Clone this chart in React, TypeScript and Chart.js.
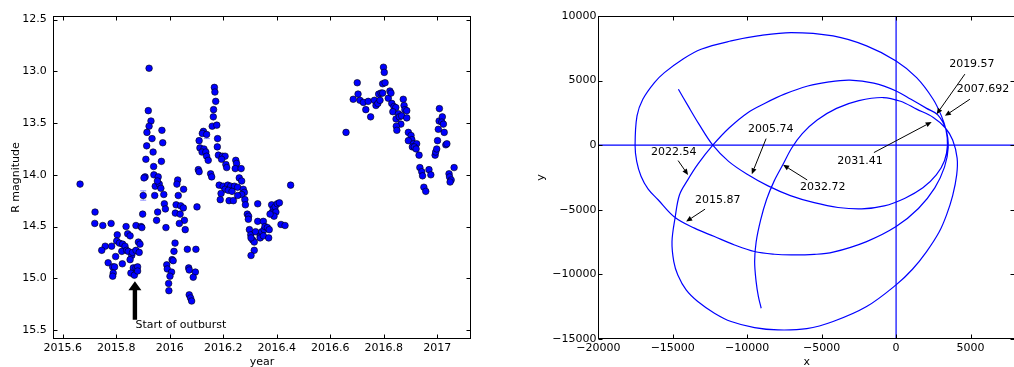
import React, { useEffect, useRef } from 'react';
import { Chart, registerables } from 'chart.js';
Chart.register(...registerables);

// ---------- Left panel: R-band light curve ----------
const years = [
  2015.665, 2015.721, 2015.720, 2015.750, 2015.781, 2015.837, 2015.874, 2015.893, 2015.896, 2015.899,
  2015.901, 2015.804, 2015.759, 2015.746, 2015.783, 2015.802, 2015.812, 2015.824, 2015.833, 2015.821,
  2015.839, 2015.843, 2015.852, 2015.845, 2015.858, 2015.861, 2015.852, 2015.874, 2015.883, 2015.889,
  2015.886, 2015.798, 2015.770, 2015.823, 2015.787, 2015.794, 2015.789, 2015.787, 2015.864, 2015.874,
  2015.880, 2015.855, 2015.868, 2015.880,
  2015.923, 2015.920, 2015.930, 2015.923, 2015.915, 2015.934, 2015.971, 2015.914, 2015.974, 2015.938,
  2015.911, 2015.969, 2015.940, 2015.908, 2015.904, 2015.941, 2015.957, 2015.946, 2015.961, 2015.967,
  2015.954, 2015.978, 2015.944, 2015.980, 2015.984, 2015.955, 2015.951, 2015.986, 2016.030, 2016.027,
  2016.052, 2016.032, 2016.024, 2016.041, 2016.051, 2016.021, 2016.039, 2016.055, 2016.036, 2016.058,
  2016.102, 2016.020, 2016.016, 2016.009, 2016.013, 2015.989, 2015.991, 2016.007, 2016.001, 2015.996,
  2015.997, 2016.066, 2016.098, 2016.071, 2016.073, 2016.096, 2016.088, 2016.073, 2016.078, 2016.082,
  2016.107, 2016.110,
  2016.167, 2016.169, 2016.172, 2016.164, 2016.163, 2016.159, 2016.176, 2016.126, 2016.122, 2016.138,
  2016.179, 2016.110, 2016.178, 2016.113, 2016.128, 2016.121, 2016.135, 2016.138, 2016.144, 2016.182,
  2016.197, 2016.207, 2016.194, 2016.210, 2016.213, 2016.247, 2016.250, 2016.245, 2016.267, 2016.153,
  2016.157, 2016.260, 2016.269, 2016.185, 2016.200, 2016.217, 2016.228, 2016.242, 2016.254, 2016.207,
  2016.219, 2016.233, 2016.275, 2016.279, 2016.269, 2016.254, 2016.192, 2016.189, 2016.222, 2016.238,
  2016.281, 2016.283, 2016.329, 2016.290, 2016.295, 2016.294, 2016.329, 2016.350, 2016.298, 2016.303,
  2016.310, 2016.316, 2016.304, 2016.321, 2016.338, 2016.344, 2016.353, 2016.356, 2016.365, 2016.372,
  2016.338, 2016.350, 2016.370, 2016.316, 2016.304, 2016.381, 2016.387, 2016.381, 2016.394, 2016.397,
  2016.402, 2016.410, 2016.390, 2016.375, 2016.416, 2016.431, 2016.452,
  2016.659, 2016.686, 2016.701, 2016.704, 2016.711, 2016.724, 2016.733, 2016.742, 2016.751, 2016.765,
  2016.771, 2016.778, 2016.781, 2016.786, 2016.790, 2016.796, 2016.796, 2016.805, 2016.799, 2016.802,
  2016.817, 2016.823, 2016.827, 2016.830, 2016.838, 2016.845, 2016.834, 2016.855, 2016.846, 2016.858,
  2016.867, 2016.864, 2016.873, 2016.876, 2016.879, 2016.886, 2016.886, 2016.847, 2016.849, 2016.892,
  2016.902, 2016.905, 2016.892, 2016.911, 2016.923, 2016.907, 2016.914, 2016.921, 2016.932, 2016.935,
  2016.942, 2016.945, 2016.950, 2016.957, 2016.969, 2016.976, 2016.992, 2016.994, 2016.998, 2017.001,
  2017.004, 2017.007, 2017.008, 2017.019, 2017.017, 2017.023, 2017.026, 2017.032, 2017.036, 2017.044,
  2017.046, 2017.052, 2017.048, 2017.063,
];
const mags = [
  14.09, 14.36, 14.47, 14.49, 14.47, 14.50, 14.49, 14.50, 14.51, 14.38,
  14.20, 14.58, 14.69, 14.73, 14.69, 14.64, 14.66, 14.67, 14.69, 14.74,
  14.73, 14.57, 14.59, 14.74, 14.78, 14.75, 14.82, 14.73, 14.65, 14.67,
  14.75, 14.79, 14.85, 14.86, 14.89, 14.89, 14.95, 14.98, 14.90, 14.90,
  14.89, 14.95, 14.97, 14.93,
  12.97, 13.38, 13.48, 13.53, 13.59, 13.65, 13.57, 13.72, 13.69, 13.78,
  13.85, 13.87, 13.92, 14.02, 14.03, 14.00, 14.02, 14.11, 14.09, 14.13,
  14.06, 14.19, 14.20, 14.28, 14.33, 14.36, 14.44, 14.51, 14.05, 14.09,
  14.14, 14.20, 14.29, 14.30, 14.32, 14.37, 14.38, 14.44, 14.47, 14.53,
  14.31, 14.66, 14.74, 14.82, 14.83, 14.87, 14.91, 14.94, 14.98, 15.05,
  15.12, 14.72, 14.72, 14.90, 14.92, 14.94, 14.99, 15.16, 15.19, 15.22,
  13.95, 13.97,
  13.155, 13.20, 13.29, 13.37, 13.44, 13.53, 13.52, 13.58, 13.60, 13.61,
  13.65, 13.67, 13.73, 13.74, 13.75, 13.78, 13.78, 13.82, 13.86, 13.81,
  13.82, 13.82, 13.85, 13.90, 13.93, 13.86, 13.89, 13.94, 13.94, 13.99,
  14.02, 14.03, 14.06, 14.10, 14.11, 14.10, 14.11, 14.11, 14.12, 14.14,
  14.15, 14.16, 14.14, 14.17, 14.19, 14.20, 14.18, 14.24, 14.25, 14.25,
  14.24, 14.29, 14.28, 14.38, 14.40, 14.43, 14.45, 14.45, 14.53, 14.58,
  14.63, 14.65, 14.61, 14.55, 14.59, 14.55, 14.53, 14.50, 14.51, 14.53,
  14.61, 14.59, 14.61, 14.73, 14.78, 14.29, 14.33, 14.37, 14.31, 14.36,
  14.28, 14.27, 14.40, 14.38, 14.48, 14.49, 14.10,
  13.59, 13.27, 13.11, 13.22, 13.28, 13.30, 13.37, 13.29, 13.44, 13.28,
  13.33, 13.31, 13.22, 13.28, 13.21, 13.21, 13.12, 13.11, 12.96, 13.01,
  13.26, 13.19, 13.21, 13.31, 13.34, 13.35, 13.39, 13.41, 13.46, 13.44,
  13.43, 13.51, 13.27, 13.33, 13.37, 13.38, 13.45, 13.53, 13.57, 13.59,
  13.62, 13.66, 13.67, 13.70, 13.70, 13.73, 13.73, 13.75, 13.81, 13.93,
  13.97, 14.01, 14.12, 14.16, 13.95, 14.00, 13.81, 13.78, 13.75, 13.67,
  13.56, 13.48, 13.36, 13.44, 13.49, 13.51, 13.59, 13.71, 13.70, 13.99,
  14.02, 14.05, 14.07, 13.93,
];
const errYears = [2015.901, 2016.139];
const errMags = [14.20, 13.62];
const errSizes = [0.045, 0.03];

const yearTicks = [2015.6, 2015.8, 2016.0, 2016.2, 2016.4, 2016.6, 2016.8, 2017.0];
const magTicks = [12.5, 13.0, 13.5, 14.0, 14.5, 15.0, 15.5];
const yearRange = [2015.565, 2017.125];
const magRange = [12.465, 15.587];

const outburstLabel = 'Start of outburst';
const outburstYear = 2015.87;
const outburstTipMag = 15.03;
const outburstTailMag = 15.40;
const outburstLabelMag = 15.45;

// ---------- Right panel: orbit (one continuous track) ----------
const orbitX = [
  -14620, -14000, -13250, -12310, -11250, -10000, -8600, -7100, -5500, -3900,
  -2300, -800, 600, 1800, 2700, 3250, 3450, 3350, 3050,
  2490, 1380, 0, -1980, -4230, -7050, -9290, -11080, -13100, -14330,
  -15560, -16230, -17010, -17400, -17530, -17420, -17130, -16650, -16000, -14890,
  -13540, -12200, -10850, -9510, -8170, -7050, -5500, -4230, -1980, 0,
  1500, 2600, 3250, 3500, 3350, 2800,
  2050, 1000, 0, -1500, -3100, -4500, -5930, -7500, -8800, -9960,
  -11200, -12310, -13300, -14000, -14550, -14840, -15050, -14930, -14660, -14100,
  -13320, -12200, -11080, -9510, -7940, -6000, -4230, -1980, 0, 1100,
  2050, 2900, 3390, 3800, 4070, 4100, 3800, 3300, 2500,
  1380, 300, -870, -2500, -4000, -5300, -6300, -7000, -7600, -8200,
  -8700, -9100, -9400, -9500, -9400, -9250, -9060,
];
const orbitY = [
  4330, 3100, 1650, 0, -1250, -2250, -3150, -3900, -4450, -4820,
  -4930, -4700, -4100, -3300, -2300, -1200, 0, 1200, 2250,
  3560, 5230, 6520, 7690, 8460, 8720, 8460, 8070, 7430, 6660,
  5620, 4850, 3560, 2270, 0, -1250, -2400, -3400, -4200, -5550,
  -6420, -7070, -7720, -8230, -8440, -8490, -8450, -8280, -7460, -6300,
  -4900, -3300, -1700, -200, 1200, 2350,
  2850, 3550, 4200, 4800, 5030, 4900, 4580, 3950, 3250, 2520,
  1350, 0, -1450, -2700, -3850, -5600, -7460, -9010, -10040, -11200,
  -12100, -13000, -13650, -14120, -14300, -14200, -13650, -12490, -10810, -9600,
  -8230, -6700, -5390, -3900, -2300, -1000, 400, 1350, 2150,
  2790, 3400, 3690, 3450, 2850, 1950, 900, -200, -1500, -2800,
  -4200, -5800, -7500, -9000, -10560, -11700, -12620,
];
const hLineX = [-20000, 8000];
const hLineY = [0, 0];
const vLineX = [0, 0];
const vLineY = [-15000, 10000];

const annoLabels = ['2022.54', '2005.74', '2015.87', '2019.57', '2007.692', '2031.41', '2032.72'];
const annoTextX = [-14930, -8410, -11980, 5090, 5830, -2430, -4920];
const annoTextY = [-520, 1260, -4230, 6290, 4320, -1250, -3230];
const annoFromX = [-14640, -8730, -12830, 4620, 4960, -1490, -5970];
const annoFromY = [-1190, 510, -4950, 5500, 3560, -570, -2690];
const annoTipX = [-13970, -9690, -14100, 2720, 3280, 2390, -7590];
const annoTipY = [-2300, -2245, -5910, 2400, 2270, 1800, -1520];

const xyTicksX = [-20000, -15000, -10000, -5000, 0, 5000];
const xyTicksY = [-15000, -10000, -5000, 0, 5000, 10000];
const xyRangeX = [-20000, 8000];
const xyRangeY = [-15000, 10000];

const FONT = "'DejaVu Sans', sans-serif";

const framePlugin = {
  id: 'frame',
  afterDatasetsDraw(chart: any) {
    const { ctx, chartArea: a, scales } = chart;
    const l = Math.round(a.left) + 0.5, r = Math.round(a.right) - 0.5;
    const t = Math.round(a.top) + 0.5, b = Math.round(a.bottom) - 0.5;
    ctx.save();
    ctx.strokeStyle = '#000';
    ctx.lineWidth = 1;
    ctx.strokeRect(l, t, r - l, b - t);
    const L = 4;
    ctx.beginPath();
    for (const tk of scales.x.ticks) {
      const p = Math.round(scales.x.getPixelForValue(tk.value)) + 0.5;
      ctx.moveTo(p, b); ctx.lineTo(p, b - L);
      ctx.moveTo(p, t); ctx.lineTo(p, t + L);
    }
    for (const tk of scales.y.ticks) {
      const p = Math.round(scales.y.getPixelForValue(tk.value)) + 0.5;
      ctx.moveTo(l, p); ctx.lineTo(l + L, p);
      ctx.moveTo(r, p); ctx.lineTo(r - L, p);
    }
    ctx.stroke();
    ctx.restore();
  },
};

const errorBarPlugin = {
  id: 'errbars',
  beforeDatasetsDraw(chart: any) {
    const { ctx, scales } = chart;
    ctx.save();
    ctx.strokeStyle = '#8c8cff';
    ctx.lineWidth = 1;
    ctx.beginPath();
    errYears.forEach((yr, i) => {
      const x = scales.x.getPixelForValue(yr);
      const y1 = scales.y.getPixelForValue(errMags[i] - errSizes[i]);
      const y2 = scales.y.getPixelForValue(errMags[i] + errSizes[i]);
      ctx.moveTo(x, y1); ctx.lineTo(x, y2);
      ctx.moveTo(x - 3, y1); ctx.lineTo(x + 3, y1);
      ctx.moveTo(x - 3, y2); ctx.lineTo(x + 3, y2);
    });
    ctx.stroke();
    ctx.restore();
  },
};

const outburstPlugin = {
  id: 'outburst',
  afterDatasetsDraw(chart: any) {
    const { ctx, scales } = chart;
    const x = scales.x.getPixelForValue(outburstYear);
    const yTip = scales.y.getPixelForValue(outburstTipMag);
    const yTail = scales.y.getPixelForValue(outburstTailMag);
    const hw = 6.5, sw = 2.2, hl = 9;
    ctx.save();
    ctx.fillStyle = '#000';
    ctx.beginPath();
    ctx.moveTo(x, yTip);
    ctx.lineTo(x + hw, yTip + hl);
    ctx.lineTo(x + sw, yTip + hl);
    ctx.lineTo(x + sw, yTail);
    ctx.lineTo(x - sw, yTail);
    ctx.lineTo(x - sw, yTip + hl);
    ctx.lineTo(x - hw, yTip + hl);
    ctx.closePath();
    ctx.fill();
    ctx.font = `11px ${FONT}`;
    ctx.textAlign = 'left';
    ctx.textBaseline = 'middle';
    ctx.fillText(outburstLabel, x + 0.5, scales.y.getPixelForValue(outburstLabelMag));
    ctx.restore();
  },
};

const annotationPlugin = {
  id: 'annos',
  afterDatasetsDraw(chart: any) {
    const { ctx, scales } = chart;
    const sx = scales.x, sy = scales.y;
    ctx.save();
    ctx.font = `11px ${FONT}`;
    ctx.fillStyle = '#000';
    ctx.strokeStyle = '#000';
    ctx.lineWidth = 1;
    ctx.textAlign = 'center';
    ctx.textBaseline = 'middle';
    annoLabels.forEach((lab, i) => {
      ctx.fillText(lab, sx.getPixelForValue(annoTextX[i]), sy.getPixelForValue(annoTextY[i]));
      const x0 = sx.getPixelForValue(annoFromX[i]), y0 = sy.getPixelForValue(annoFromY[i]);
      const x1 = sx.getPixelForValue(annoTipX[i]), y1 = sy.getPixelForValue(annoTipY[i]);
      const ang = Math.atan2(y1 - y0, x1 - x0);
      const hl = 6, hw = 2.6;
      const bx = x1 - hl * Math.cos(ang), by = y1 - hl * Math.sin(ang);
      ctx.beginPath();
      ctx.moveTo(x0, y0); ctx.lineTo(bx, by);
      ctx.stroke();
      ctx.beginPath();
      ctx.moveTo(x1, y1);
      ctx.lineTo(bx + hw * Math.sin(ang), by - hw * Math.cos(ang));
      ctx.lineTo(bx - hw * Math.sin(ang), by + hw * Math.cos(ang));
      ctx.closePath();
      ctx.fill();
    });
    ctx.restore();
  },
};

const fmtYear = (v: number) => String(Number(v.toFixed(1)));
const fmtMag = (v: number) => v.toFixed(1);
const fmtXY = (v: number) => String(Math.round(v)).replace('-', '\u2212');

export default function App() {
  const leftRef = useRef<HTMLCanvasElement>(null);
  const rightRef = useRef<HTMLCanvasElement>(null);

  useEffect(() => {
    document.body.style.margin = '0';
    Chart.defaults.font.family = FONT;
    Chart.defaults.font.size = 11;
    Chart.defaults.color = '#000';

    const left = new Chart(leftRef.current as HTMLCanvasElement, {
      type: 'scatter',
      data: {
        datasets: [{
          data: years.map((x, i) => ({ x, y: mags[i] })),
          backgroundColor: '#0000ff',
          borderColor: '#000',
          borderWidth: 0.6,
          pointRadius: 3.3,
        }],
      },
      options: {
        animation: false,
        responsive: false,
        layout: { padding: { top: 16, right: 29.3, left: 0, bottom: 0 } },
        plugins: { legend: { display: false }, tooltip: { enabled: false } },
        scales: {
          x: {
            type: 'linear', min: yearRange[0], max: yearRange[1],
            grid: { display: false, drawTicks: false }, border: { display: false },
            afterBuildTicks: (s: any) => { s.ticks = yearTicks.map((v) => ({ value: v })); },
            afterFit: (s: any) => { s.height = 28; },
            ticks: { callback: (v: any) => fmtYear(Number(v)), padding: 3, maxRotation: 0, autoSkip: false, font: { size: 11 } },
            title: { display: true, text: 'year', font: { size: 11 }, padding: { top: 0, bottom: -2 } },
          },
          y: {
            type: 'linear', reverse: true, min: magRange[0], max: magRange[1],
            grid: { display: false, drawTicks: false }, border: { display: false },
            afterBuildTicks: (s: any) => { s.ticks = magTicks.map((v) => ({ value: v })); },
            afterFit: (s: any) => { s.width = 53.3; },
            ticks: { callback: (v: any) => fmtMag(Number(v)), padding: 6.6, autoSkip: false, font: { size: 11 } },
            title: { display: true, text: 'R magnitude', font: { size: 11 }, padding: { top: 10, bottom: 0 } },
          },
        },
      },
      plugins: [errorBarPlugin, framePlugin, outburstPlugin],
    } as any);

    const lineStyle = { showLine: true, borderColor: '#0000ff', borderWidth: 1.2, pointRadius: 0, fill: false };
    const right = new Chart(rightRef.current as HTMLCanvasElement, {
      type: 'scatter',
      data: {
        datasets: [
          { ...lineStyle, tension: 0.35, data: orbitX.map((x, i) => ({ x, y: orbitY[i] })) },
          { ...lineStyle, data: hLineX.map((x, i) => ({ x, y: hLineY[i] })) },
          { ...lineStyle, data: vLineX.map((x, i) => ({ x, y: vLineY[i] })) },
        ],
      },
      options: {
        animation: false,
        responsive: false,
        layout: { padding: { top: 16, right: 4.8, left: 0, bottom: 0 } },
        plugins: { legend: { display: false }, tooltip: { enabled: false } },
        scales: {
          x: {
            type: 'linear', min: xyRangeX[0], max: xyRangeX[1],
            grid: { display: false, drawTicks: false }, border: { display: false },
            afterBuildTicks: (s: any) => { s.ticks = xyTicksX.map((v) => ({ value: v })); },
            afterFit: (s: any) => { s.height = 28; },
            ticks: { callback: (v: any) => fmtXY(Number(v)), padding: 3, maxRotation: 0, autoSkip: false, font: { size: 11 } },
            title: { display: true, text: 'x', font: { size: 11 }, padding: { top: 0, bottom: -2 } },
          },
          y: {
            type: 'linear', min: xyRangeY[0], max: xyRangeY[1],
            grid: { display: false, drawTicks: false }, border: { display: false },
            afterBuildTicks: (s: any) => { s.ticks = xyTicksY.map((v) => ({ value: v })); },
            afterFit: (s: any) => { s.width = 98.3; },
            ticks: { callback: (v: any) => fmtXY(Number(v)), padding: 1.8, autoSkip: false, font: { size: 11 } },
            title: { display: true, text: 'y', font: { size: 11 }, padding: { top: 35, bottom: 0 } },
          },
        },
      },
      plugins: [framePlugin, annotationPlugin],
    } as any);

    return () => { left.destroy(); right.destroy(); };
  }, []);

  return (
    <div style={{ position: 'fixed', left: 0, top: 0, width: 1014, height: 367, overflow: 'hidden', background: '#fff' }}>
      <canvas ref={leftRef} width={500} height={367}
        style={{ position: 'absolute', left: 0, top: 0, width: 500, height: 367 }} />
      <canvas ref={rightRef} width={520} height={367}
        style={{ position: 'absolute', left: 500, top: 0, width: 520, height: 367 }} />
    </div>
  );
}
